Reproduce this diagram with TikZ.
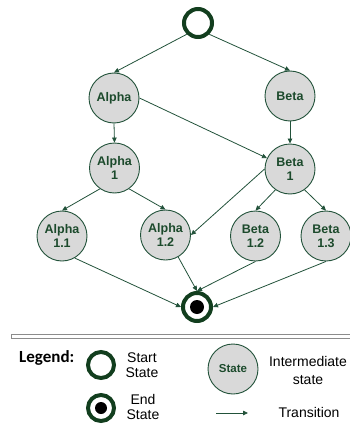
\documentclass[tikz,border=0pt]{standalone}
\usepackage{fontspec}
\setmainfont{Liberation Sans}
\newfontfamily\legfont{Carlito}
\usetikzlibrary{arrows.meta}
\definecolor{ringcol}{HTML}{123E1E}
\definecolor{edgecol}{HTML}{22523A}
\definecolor{txtcol}{HTML}{1C4A2C}
\definecolor{statefill}{HTML}{D9D9D9}
\definecolor{sepcol}{HTML}{8C8C8C}
\tikzset{
  stnode/.style={circle, draw=edgecol, line width=0.9pt, fill=statefill, minimum size=50pt, inner sep=0pt,
    font=\bfseries\fontsize{12.5}{14}\selectfont, text=txtcol, align=center},
  ringnode/.style={circle, draw=ringcol, line width=4pt, minimum size=28pt, inner sep=0pt},
  legring/.style={circle, draw=ringcol, line width=4pt, minimum size=26pt, inner sep=0pt},
  tr/.style={-{Triangle[length=5pt,width=4.5pt]}, draw=edgecol, line width=0.8pt},
  legtext/.style={font=\fontsize{14}{15.5}\selectfont, align=center, text=black, inner sep=0pt},
}
\begin{document}
\begin{tikzpicture}[x=1pt,y=-1pt]
\useasboundingbox (0,0) rectangle (350,428);
% main nodes
\node[ringnode] (start) at (198,23) {};
\node[stnode] (alpha) at (114,98) {Alpha};
\node[stnode] (beta) at (290,96) {Beta};
\node[stnode] (a1) at (114.5,168) {Alpha\\1};
\node[stnode] (b1) at (290,169) {Beta\\1};
\node[stnode] (a11) at (62,236) {Alpha\\1.1};
\node[stnode] (a12) at (165.5,235) {Alpha\\1.2};
\node[stnode] (b12) at (255.5,236) {Beta\\1.2};
\node[stnode] (b13) at (326,236) {Beta\\1.3};
\node[ringnode] (end) at (197,307) {};
\fill[black] (end.center) circle (7pt);
% transitions
\draw[tr] (start.south west) -- (alpha.north);
\draw[tr] (start.south east) -- (beta.north);
\draw[tr] (alpha.south) -- (a1.north);
\draw[tr] (alpha.east) -- (b1);
\draw[tr] (beta.south) -- (b1.north);
\draw[tr] (a1.-125) -- (a11.north);
\draw[tr] (a1.-55) -- (a12.north);
\draw[tr] (b1.west) -- (a12.east);
\draw[tr] (b1.-125) -- (b12.north);
\draw[tr] (b1.-55) -- (b13.north);
\draw[tr] (a11.-60) -- (end.west);
\draw[tr] (a12.-60) -- (end.north);
\draw[tr] (b12.south) -- (end.north);
\draw[tr] (b13.south) -- (end.east);
% separator
\draw[draw=sepcol, fill=white, line width=0.9pt] (11,334) rectangle (362,338);
% legend
\node[anchor=west, inner sep=0pt, font=\legfont\bfseries\fontsize{17}{19}\selectfont] (leg) at (19,358) {Legend:};
\node[legring] (lstart) at (101,365) {};
\node[legtext] (lstarttxt) at (142,365) {Start\\State};
\node[legring] (lend) at (101,408) {};
\fill[black] (lend.center) circle (6pt);
\node[legtext] (lendtxt) at (143,407) {End\\State};
\node[stnode, font=\bfseries\fontsize{11.5}{13}\selectfont] (lstate) at (233,369) {State};
\node[legtext, font=\fontsize{14}{18}\selectfont] (lstatetxt) at (308,370) {Intermediate\\state};
\coordinate (ta) at (216,413);
\coordinate (tb) at (248,413);
\draw[tr] (ta) -- (tb);
\node[legtext] (ltrtxt) at (309,412) {Transition};
\end{tikzpicture}
\end{document}
